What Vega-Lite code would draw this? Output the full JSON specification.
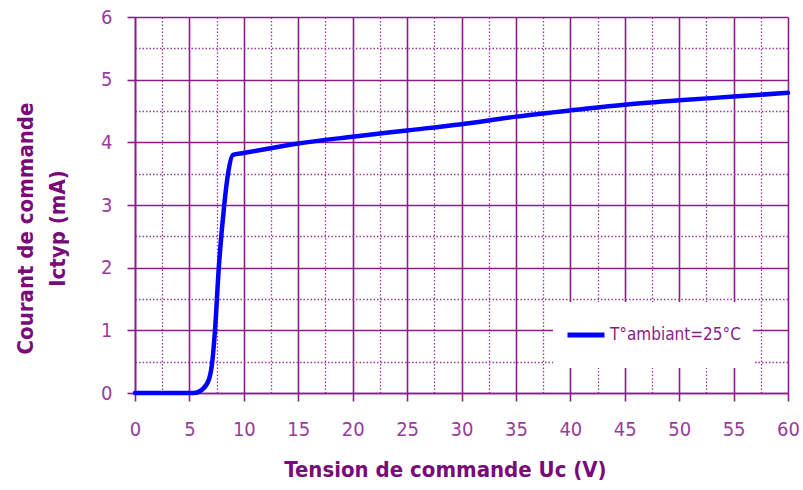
{
  "$schema": "https://vega.github.io/schema/vega-lite/v6.json",
  "width": 653,
  "height": 376,
  "autosize": {"type": "none"},
  "padding": {"left": 135, "top": 17, "right": 15, "bottom": 97},
  "background": "white",
  "config": {
    "view": {"stroke": null},
    "font": "DejaVu Sans Condensed"
  },
  "data": {
    "values": [
      {"Uc": 0, "Ic": 0, "serie": "T°ambiant=25°C"},
      {"Uc": 2, "Ic": 0, "serie": "T°ambiant=25°C"},
      {"Uc": 4, "Ic": 0, "serie": "T°ambiant=25°C"},
      {"Uc": 5.4, "Ic": 0, "serie": "T°ambiant=25°C"},
      {"Uc": 6.2, "Ic": 0.06, "serie": "T°ambiant=25°C"},
      {"Uc": 6.8, "Ic": 0.22, "serie": "T°ambiant=25°C"},
      {"Uc": 7.1, "Ic": 0.5, "serie": "T°ambiant=25°C"},
      {"Uc": 7.35, "Ic": 1.0, "serie": "T°ambiant=25°C"},
      {"Uc": 7.7, "Ic": 2.0, "serie": "T°ambiant=25°C"},
      {"Uc": 8.2, "Ic": 3.0, "serie": "T°ambiant=25°C"},
      {"Uc": 8.55, "Ic": 3.5, "serie": "T°ambiant=25°C"},
      {"Uc": 9.0, "Ic": 3.8, "serie": "T°ambiant=25°C"},
      {"Uc": 10, "Ic": 3.83, "serie": "T°ambiant=25°C"},
      {"Uc": 15, "Ic": 3.98, "serie": "T°ambiant=25°C"},
      {"Uc": 20, "Ic": 4.09, "serie": "T°ambiant=25°C"},
      {"Uc": 25, "Ic": 4.19, "serie": "T°ambiant=25°C"},
      {"Uc": 30, "Ic": 4.29, "serie": "T°ambiant=25°C"},
      {"Uc": 35, "Ic": 4.41, "serie": "T°ambiant=25°C"},
      {"Uc": 40, "Ic": 4.51, "serie": "T°ambiant=25°C"},
      {"Uc": 45, "Ic": 4.6, "serie": "T°ambiant=25°C"},
      {"Uc": 50, "Ic": 4.67, "serie": "T°ambiant=25°C"},
      {"Uc": 55, "Ic": 4.73, "serie": "T°ambiant=25°C"},
      {"Uc": 60, "Ic": 4.79, "serie": "T°ambiant=25°C"}
    ]
  },
  "layer": [
    {
      "mark": {"type": "point", "opacity": 0},
      "encoding": {
        "x": {
          "field": "Uc", "type": "quantitative",
          "scale": {"domain": [0, 60], "nice": false, "zero": false},
          "axis": {
            "orient": "bottom",
            "values": [2.5, 7.5, 12.5, 17.5, 22.5, 27.5, 32.5, 37.5, 42.5, 47.5, 52.5, 57.5],
            "grid": true, "gridColor": "#9a3a9a", "gridDash": [1.5, 2], "gridWidth": 1.3, "gridOpacity": 1,
            "labels": false, "ticks": false, "domain": false, "title": null
          }
        },
        "y": {
          "field": "Ic", "type": "quantitative",
          "scale": {"domain": [0, 6], "nice": false},
          "axis": {
            "orient": "left",
            "values": [0.5, 1.5, 2.5, 3.5, 4.5, 5.5],
            "grid": true, "gridColor": "#9a3a9a", "gridDash": [1.5, 2], "gridWidth": 1.3, "gridOpacity": 1,
            "labels": false, "ticks": false, "domain": false, "title": null
          }
        }
      }
    },
    {
      "mark": {"type": "line", "interpolate": "monotone", "strokeWidth": 4.5, "strokeCap": "round", "strokeJoin": "round"},
      "encoding": {
        "x": {
          "field": "Uc", "type": "quantitative",
          "scale": {"domain": [0, 60], "nice": false, "zero": false},
          "axis": {
            "orient": "bottom",
            "values": [0, 5, 10, 15, 20, 25, 30, 35, 40, 45, 50, 55, 60],
            "grid": true, "gridColor": "#8a1c8a", "gridWidth": 1.6, "gridOpacity": 1,
            "domain": true, "domainColor": "#8a1c8a", "domainWidth": 1.6,
            "ticks": true, "tickColor": "#8a1c8a", "tickWidth": 1.6, "tickSize": 8,
            "labelFont": "DejaVu Sans Condensed", "labelFontSize": 20, "labelColor": "#9b3b9b", "labelPadding": 18,
            "labelFlush": false,
            "title": "Tension de commande Uc (V)",
            "titleFont": "DejaVu Sans Condensed", "titleFontSize": 22, "titleFontWeight": "bold", "titleColor": "#7a0a7a",
            "titleX": 310, "titleAlign": "center",
            "titleY": 66
          }
        },
        "y": {
          "field": "Ic", "type": "quantitative",
          "scale": {"domain": [0, 6], "nice": false},
          "axis": {
            "orient": "left",
            "values": [0, 1, 2, 3, 4, 5, 6],
            "grid": true, "gridColor": "#8a1c8a", "gridWidth": 1.6, "gridOpacity": 1,
            "domain": true, "domainColor": "#8a1c8a", "domainWidth": 1.6,
            "ticks": true, "tickColor": "#8a1c8a", "tickWidth": 1.6, "tickSize": 8,
            "labelFont": "DejaVu Sans Condensed", "labelFontSize": 20, "labelColor": "#9b3b9b", "labelPadding": 15,
            "labelFlush": false,
            "title": ["Courant de commande", "Ictyp (mA)"],
            "titleFont": "DejaVu Sans Condensed", "titleFontSize": 22, "titleFontWeight": "bold", "titleColor": "#7a0a7a",
            "titleLineHeight": 32,
            "titleAngle": -90, "titleBaseline": "bottom", "titleAlign": "center",
            "titleX": -98, "titleY": 211
          }
        },
        "color": {
          "field": "serie", "type": "nominal",
          "scale": {"range": ["#0000ff"]},
          "legend": {
            "orient": "none", "legendX": 418, "legendY": 285,
            "title": null, "fillColor": "white", "padding": 12,
            "clipHeight": 42,
            "symbolType": "stroke", "symbolSize": 1369, "symbolStrokeWidth": 5,
            "labelFont": "DejaVu Sans Condensed", "labelFontSize": 17, "labelColor": "#8a1c8a", "labelOffset": 3
          }
        }
      }
    }
  ],
  "resolve": {"axis": {"x": "independent", "y": "independent"}}
}
